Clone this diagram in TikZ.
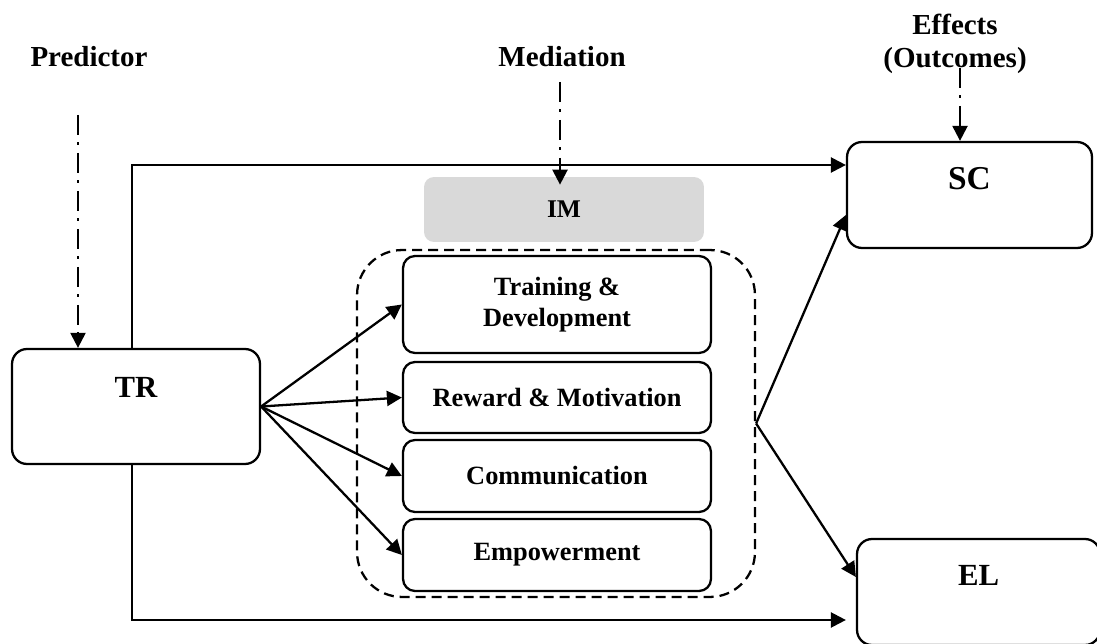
\documentclass[tikz,border=0pt]{standalone}
\usepackage{fontspec}
\setmainfont{Liberation Serif}
\usetikzlibrary{arrows.meta}

\tikzset{var box/.style={draw,line width=1.3pt,rounded corners=0.3cm,font=\fontsize{17.5}{20}\bfseries\selectfont,align=center,inner sep=0pt},
factor box/.style={draw,line width=1.3pt,rounded corners=0.24cm,minimum width=6.16cm,font=\fontsize{15}{18}\bfseries\selectfont,align=center,inner sep=0pt},
gray box/.style={fill=black!15,rounded corners=0.2cm,font=\fontsize{14.5}{17}\bfseries\selectfont,inner sep=0pt},
heading/.style={font=\fontsize{16.5}{19}\bfseries\selectfont,align=center,inner sep=0pt},
group/.style={draw,line width=1.3pt,dash pattern=on 0.2cm off 0.12cm,rounded corners=0.9cm,inner sep=0pt},
link/.style={line width=1.3pt,-{Triangle[length=0.3cm,width=0.3cm]}},
guide/.style={line width=1.3pt,dash pattern=on 0.4cm off 0.15cm on 0.06cm off 0.15cm,-{Triangle[length=0.3cm,width=0.3cm]}}}

\begin{document}
\begin{tikzpicture}[x=0.02cm,y=-0.02cm]
\useasboundingbox (0,0) rectangle (1097,644);

%% headings
\node [heading] (predictor) at (89,57) {Predictor};
\node [heading] (mediation) at (562,57) {Mediation};
\node [heading] (effects) at (955,44) {Effects\\(Outcomes)};

%% mediators
\node [group,minimum width=7.96cm,minimum height=6.94cm] (mediators) at (556,423.5) {};
\node [gray box,minimum width=5.6cm,minimum height=1.3cm] (IM) at (564,209.5) {IM};
\node [factor box,minimum height=1.94cm] (train) at (557,304.5) {Training \&\\Development};
\node [factor box,minimum height=1.42cm] (reward) at (557,397.5) {Reward \& Motivation};
\node [factor box,minimum height=1.44cm] (comm) at (557,476) {Communication};
\node [factor box,minimum height=1.44cm] (empower) at (557,555) {Empowerment};

%% variables
\node [var box,minimum width=4.96cm,minimum height=2.3cm,text height=0.5cm,text depth=0.88cm] (TR) at (136,406.5) {TR};
\node [var box,minimum width=4.9cm,minimum height=2.12cm,text height=0.5cm,text depth=0.7cm,font=\fontsize{19}{22}\bfseries\selectfont] (SC) at (969.5,195) {SC};
\node [var box,minimum width=4.86cm,minimum height=2.12cm,text height=0.5cm,text depth=0.78cm] (EL) at (978.5,592) {EL};

%% guide arrows
\coordinate (predEnd) at (78,115);
\coordinate (medEnd) at (560,82);
\coordinate (effEnd) at (960,68);
\draw [guide] (predEnd) -- (predEnd |- TR.north);
\draw [guide,shorten >=-0.16cm] (medEnd) -- (medEnd |- IM.north);
\draw [guide] (effEnd) -- (effEnd |- SC.north);

%% paths
\draw [link] (TR.east) -- (train.west);
\draw [link] (TR.east) -- (reward.west);
\draw [link] (TR.east) -- (comm.west);
\draw [link] (TR.east) -- (empower.west);
\draw [link] ([xshift=-0.08cm]TR.north) |- ([yshift=0.6cm]SC.west);
\draw [link,shorten >=0.2cm] ([xshift=-0.08cm]TR.south) |- ([yshift=-0.56cm]EL.west);

\coordinate (join) at (mediators.east);
\draw [link] (join) -- ([yshift=-0.4cm]SC.west);
\draw [link] (join) -- ([yshift=0.3cm]EL.west);

\end{tikzpicture}
\end{document}
